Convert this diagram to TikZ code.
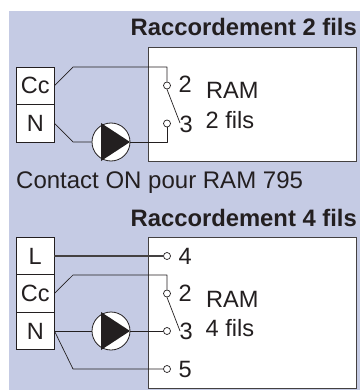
\documentclass[tikz,border=0pt]{standalone}
\usepackage{fontspec}
\setmainfont{Liberation Sans}
\usetikzlibrary{calc}
\definecolor{bgc}{HTML}{C5CBE4}
\definecolor{ink}{HTML}{231F20}
\tikzset{
  x=1pt,y=-1pt,
  term/.style={draw=ink,line width=.9pt,fill=white,minimum width=37.5pt,minimum height=37.5pt,inner sep=0pt,text=ink,font=\fontsize{23.5}{24}\selectfont},
  ram/.style={draw=ink!85,line width=1pt,fill=white,minimum width=208pt,inner sep=0pt},
  dot/.style={circle,draw=ink,line width=.7pt,fill=white,minimum size=7pt,inner sep=0pt},
  wire/.style={draw=ink,line width=.7pt,line join=round},
  thick wire/.style={draw=ink!85,line width=1.2pt},
  pumpc/.style={circle,draw=ink,line width=.8pt,fill=white,minimum size=38pt,inner sep=0pt},
  lab/.style={text=ink,font=\fontsize{23.6}{24}\selectfont,inner sep=0pt,anchor=base west},
  clab/.style={text=ink,font=\fontsize{24}{24}\selectfont,inner sep=0pt,anchor=base west},
  head/.style={text=ink,font=\fontsize{23.8}{24}\selectfont\bfseries,inner sep=0pt,anchor=base east},
}
\newcommand{\pumphead}[1]{\fill[ink] ($(#1)+(-10,-19)$) -- ($(#1)+(19,0)$) -- ($(#1)+(-10,19)$) -- cycle;}
\begin{document}
\begin{tikzpicture}
\useasboundingbox (0,0) rectangle (360,390);
\fill[white] (0,0) rectangle (360,390);
\fill[bgc] (9,11) rectangle (360,390);
% ---- 2 fils
\node[head] (t1) at (357,36) {Raccordement 2 fils};
\node[ram,minimum height=113pt] (r1) at (252.5,104.5) {};
\node[term] (cc1) at (35.25,85.75) {Cc};
\node[term] (n1) at (35.25,123.25) {N};
\node[dot] (a2) at (167,85.5) {};
\node[dot] (a3) at (167,123.5) {};
\coordinate (a3e) at (180,123);
\node[pumpc] (p1) at (111,142) {};
\pumphead{p1}
\draw[wire] (cc1.east) -- (73,67) -- (167,67) -- (a2.north);
\draw[wire] (n1.east) -- (73,142) -- (p1.west);
\draw[wire] (p1.east) -- (167,142) -- (a3.south);
\draw[wire] (a2.south) -- (a3e);
\node[lab] (l2) at (178.5,93) {2};
\node[lab] (l3) at (179.5,132) {3};
\node[lab] (ram1) at (206,99) {RAM};
\node[lab] (f1) at (205.5,128.5) {2 fils};
\node[clab] (c1) at (16,188) {Contact ON pour RAM 795};
% ---- 4 fils
\node[head] (t2) at (357,226) {Raccordement 4 fils};
\node[ram,minimum height=151pt] (r2) at (252.5,312.5) {};
\node[term] (l) at (35.25,256) {L};
\node[term] (cc2) at (35.25,293.5) {Cc};
\node[term] (n2) at (35.25,331) {N};
\node[dot] (b4) at (167,256) {};
\node[dot] (b2) at (167,293.5) {};
\node[dot] (b3) at (167,331) {};
\node[dot] (b5) at (167,369) {};
\coordinate (b3e) at (180,331);
\node[pumpc] (p2) at (111,331) {};
\pumphead{p2}
\draw[thick wire] (l.east) -- (b4.west);
\draw[wire] (cc2.east) -- (73,275) -- (167,275) -- (b2.north);
\draw[wire] (n2.east) -- (p2.west);
\draw[wire] (p2.east) -- (b3.west);
\draw[wire] (n2.east) -- (73,369) -- (b5.west);
\draw[wire] (b2.south) -- (b3e);
\node[lab] (m4) at (178.5,264) {4};
\node[lab] (m2) at (178.5,301) {2};
\node[lab] (m3) at (179.5,339) {3};
\node[lab] (m5) at (178.5,377) {5};
\node[lab] (ram2) at (206,307) {RAM};
\node[lab] (f2) at (205.5,336) {4 fils};
\end{tikzpicture}
\end{document}
